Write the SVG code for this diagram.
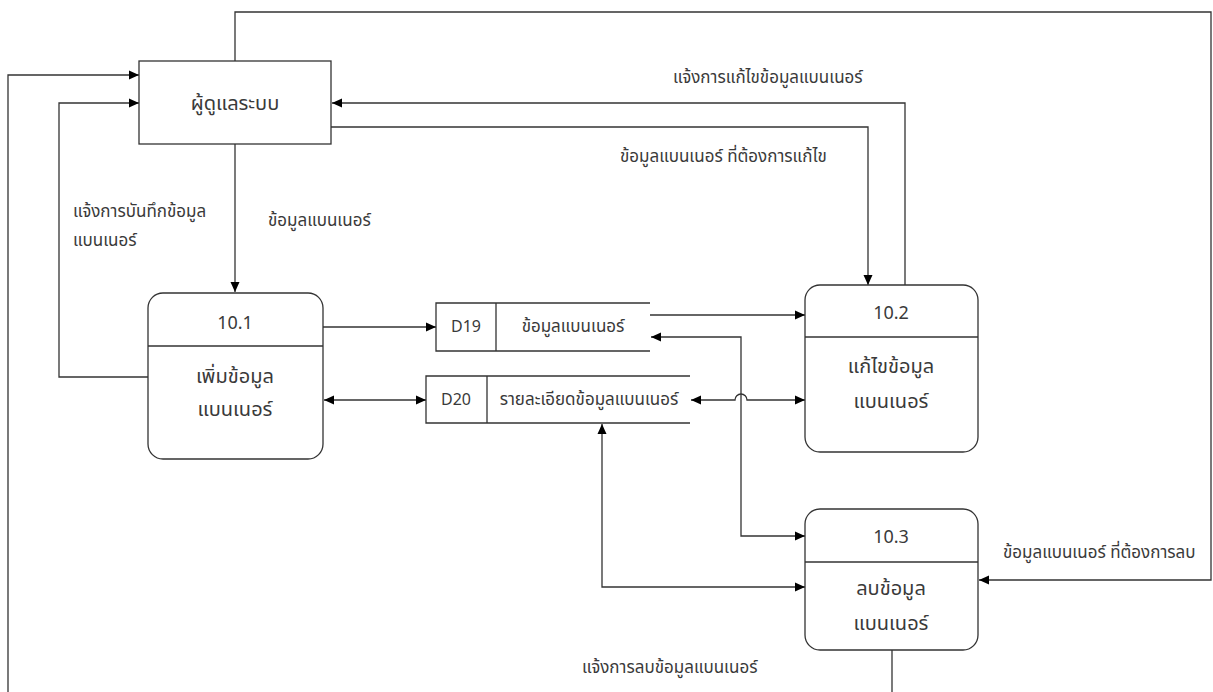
<svg xmlns="http://www.w3.org/2000/svg" width="1213" height="692" viewBox="0 0 1213 692">
<defs>
<marker id="arr" viewBox="0 0 10 10" refX="10" refY="5" markerWidth="10" markerHeight="10" markerUnits="userSpaceOnUse" orient="auto-start-reverse">
<path d="M0,0.5 L10,5 L0,9.5 z" fill="#000"/>
</marker>
<style>
.ln{fill:none;stroke:#333;stroke-width:1.3}
.nd{fill:#fff;stroke:#333;stroke-width:1.3}
.t{font-family:"Noto Sans Thai","Leelawadee UI",Tahoma,"DejaVu Sans","Noto Sans",sans-serif;fill:#3a3a3a;dominant-baseline:central}
.lb{font-size:17px}
.nt{font-size:20px;text-anchor:middle}
.num{font-size:18px;text-anchor:middle}
.ds{font-size:16px;text-anchor:middle}
</style>
</defs>
<rect width="1213" height="692" fill="#fff"/>
<g id="connectors">
<path class="ln" d="M235,61 V12 H1211 V580 H979" marker-end="url(#arr)"/>
<path class="ln" d="M8,692 V75 H139" marker-end="url(#arr)"/>
<path class="ln" d="M148,377 H59 V103 H139" marker-end="url(#arr)"/>
<path class="ln" d="M905,285 V103 H332" marker-end="url(#arr)"/>
<path class="ln" d="M331,127 H868 V285" marker-end="url(#arr)"/>
<path class="ln" d="M235,144 V292" marker-end="url(#arr)"/>
<path class="ln" d="M323,327 H436" marker-end="url(#arr)"/>
<path class="ln" d="M324,400 H426" marker-start="url(#arr)" marker-end="url(#arr)"/>
<path class="ln" d="M650,315 H805" marker-end="url(#arr)"/>
<path class="ln" d="M651,337 H741 V536 H805" marker-start="url(#arr)" marker-end="url(#arr)"/>
<path class="ln" d="M691,400 H735 A6,6 0 0 1 747,400 H805" marker-start="url(#arr)" marker-end="url(#arr)"/>
<path class="ln" d="M602,424 V587 H805" marker-start="url(#arr)" marker-end="url(#arr)"/>
<path class="ln" d="M892,650 V692"/>
<text class="t lb" x="673" y="78">แจ้งการแก้ไขข้อมูลแบนเนอร์</text>
<text class="t lb" x="620" y="157">ข้อมูลแบนเนอร์ ที่ต้องการแก้ไข</text>
<text class="t lb" x="73" y="212">แจ้งการบันทึกข้อมูล</text>
<text class="t lb" x="73" y="241">แบนเนอร์</text>
<text class="t lb" x="268" y="221">ข้อมูลแบนเนอร์</text>
<text class="t lb" x="1003" y="553">ข้อมูลแบนเนอร์ ที่ต้องการลบ</text>
<text class="t lb" x="582" y="668">แจ้งการลบข้อมูลแบนเนอร์</text>
</g>
<g id="entity-admin">
<rect class="nd" x="139" y="61" width="192" height="83"/>
<text class="t nt" x="235" y="104">ผู้ดูแลระบบ</text>
</g>
<g id="process-10-1">
<rect class="nd" x="148" y="293" width="175" height="166" rx="15"/>
<line class="ln" x1="148" y1="346" x2="323" y2="346"/>
<text class="t num" x="235" y="323">10.1</text>
<text class="t nt" x="235" y="377">เพิ่มข้อมูล</text>
<text class="t nt" x="235" y="410">แบนเนอร์</text>
</g>
<g id="store-d19">
<path class="ln" d="M650,303 H436 V351 H650 M496,303 V351"/>
<text class="t ds" x="466" y="327">D19</text>
<text class="t lb" x="573" y="327" text-anchor="middle">ข้อมูลแบนเนอร์</text>
</g>
<g id="store-d20">
<path class="ln" d="M690,376 H426 V423 H690 M487,376 V423"/>
<text class="t ds" x="456" y="400">D20</text>
<text class="t lb" x="589" y="400" text-anchor="middle">รายละเอียดข้อมูลแบนเนอร์</text>
</g>
<g id="process-10-2">
<rect class="nd" x="805" y="285" width="173" height="167" rx="15"/>
<line class="ln" x1="805" y1="337" x2="978" y2="337"/>
<text class="t num" x="891" y="313">10.2</text>
<text class="t nt" x="891" y="367">แก้ไขข้อมูล</text>
<text class="t nt" x="891" y="402">แบนเนอร์</text>
</g>
<g id="process-10-3">
<rect class="nd" x="805" y="509" width="173" height="141" rx="15"/>
<line class="ln" x1="805" y1="562" x2="978" y2="562"/>
<text class="t num" x="891" y="537">10.3</text>
<text class="t nt" x="891" y="589">ลบข้อมูล</text>
<text class="t nt" x="891" y="624">แบนเนอร์</text>
</g>
</svg>
